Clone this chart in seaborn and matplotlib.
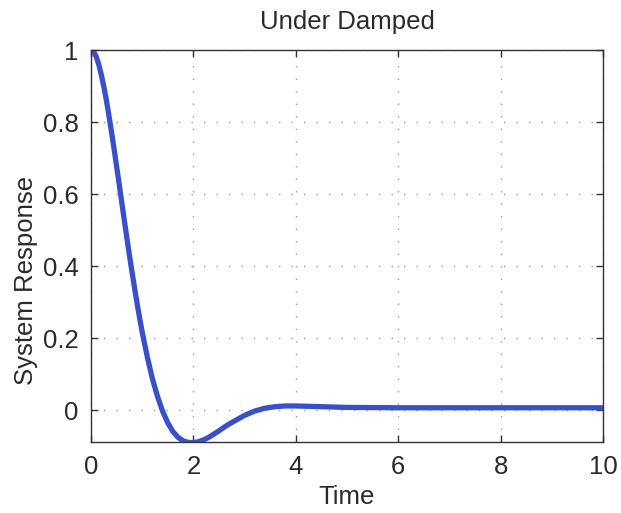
import numpy as np
import pandas as pd
import matplotlib
matplotlib.use("Agg")
import matplotlib.pyplot as plt
import seaborn as sns

time = [0.0, 0.05, 0.1, 0.15, 0.2, 0.25, 0.3, 0.35, 0.4, 0.45, 0.5, 0.55, 0.6, 0.65,
        0.7, 0.75, 0.8, 0.85, 0.9, 0.95, 1.0,
        1.1, 1.2, 1.3, 1.4, 1.5, 1.6, 1.7, 1.8, 1.9, 2.0,
        2.1, 2.2, 2.3, 2.4, 2.5, 2.6, 2.7, 2.8, 2.9, 3.0, 3.2, 3.4, 3.6, 3.8, 4.0,
        4.5, 5.0, 6.0, 7.0, 8.0, 9.0, 10.0]
response = [1.000, 0.995, 0.982, 0.961, 0.932, 0.899, 0.861, 0.818, 0.773, 0.726, 0.677,
            0.628, 0.578, 0.528, 0.479, 0.431, 0.385, 0.340, 0.297, 0.256, 0.217,
            0.148, 0.087, 0.038, -0.003, -0.035, -0.059, -0.075, -0.085, -0.089, -0.090,
            -0.087, -0.082, -0.075, -0.066, -0.057, -0.047, -0.038, -0.030, -0.022, -0.014,
            -0.002, 0.006, 0.010, 0.012, 0.012,
            0.010, 0.008, 0.007, 0.007, 0.007, 0.007, 0.007]
x_ticks = [0, 2, 4, 6, 8, 10]
y_ticks = [0, 0.2, 0.4, 0.6, 0.8, 1]
y_tick_labels = ["0", "0.2", "0.4", "0.6", "0.8", "1"]

df = pd.DataFrame({"Time": time, "System Response": response})

sns.set_style("white")
plt.rcParams["font.family"] = ["Liberation Sans", "DejaVu Sans"]

fig = plt.figure(figsize=(6.21, 5.13), dpi=100)
ax = fig.add_axes([91 / 621, 1 - 442 / 513, (603 - 91) / 621, (442 - 50) / 513])

sns.lineplot(data=df, x="Time", y="System Response", ax=ax,
             color="#3a50c8", linewidth=3.8, estimator=None, sort=False)
for ln in ax.lines:
    ln.set_solid_capstyle("round")
    ln.set_solid_joinstyle("round")

ax.set_xlim(0, 10)
ax.set_ylim(-0.088, 1)
ax.set_xticks(x_ticks)
ax.set_xticklabels([str(t) for t in x_ticks])
ax.set_yticks(y_ticks)
ax.set_yticklabels(y_tick_labels)

ax.grid(True, color="#9a9a9a", linestyle=(0, (1, 8)), linewidth=1.0)
for s in ax.spines.values():
    s.set_color("#333333")
    s.set_linewidth(1.0)
    s.set_visible(True)

ax.tick_params(direction="in", length=5, width=1, colors="#333333",
               labelsize=18.5, labelcolor="#2a2a2a",
               top=True, right=True, bottom=True, left=True, pad=9)

ax.set_title("Under Damped", fontsize=18.5, color="#2a2a2a", pad=15)
ax.set_xlabel("Time", fontsize=18.5, color="#2a2a2a", labelpad=5)
ax.set_ylabel("System Response", fontsize=18.5, color="#2a2a2a")
ax.yaxis.set_label_coords(-0.103, 0.413)

fig.savefig("out.png", dpi=100)
